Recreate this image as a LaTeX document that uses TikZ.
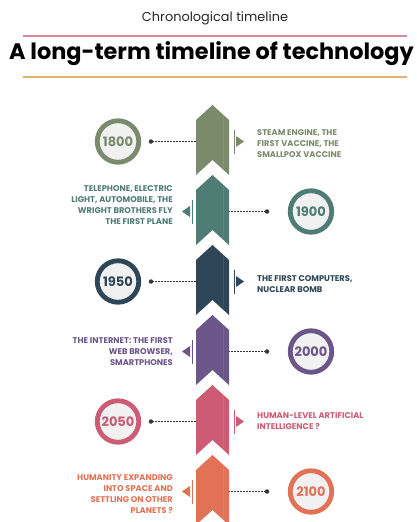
\documentclass[tikz,border=0pt]{standalone}
\usepackage{fontspec}
\setmainfont{Poppins}
\definecolor{cA}{HTML}{7C8A6C}
\definecolor{cB}{HTML}{4F7D75}
\definecolor{cC}{HTML}{2E4657}
\definecolor{cD}{HTML}{6A5689}
\definecolor{cE}{HTML}{CD5B73}
\definecolor{cF}{HTML}{E27256}
\definecolor{dotc}{HTML}{333840}
\definecolor{innerc}{HTML}{F1F1F1}
\definecolor{pinkline}{HTML}{D68A9C}
\definecolor{goldline}{HTML}{DDB66A}
\newcommand{\yrfont}{\fontsize{13}{14}\selectfont\bfseries}
\newcommand{\evfont}{\fontsize{8.3}{11}\selectfont\bfseries}
\tikzset{
  yearring/.style={circle, draw=#1, line width=4.8pt, fill=innerc, minimum size=41.5pt, inner sep=0pt, text=#1, font=\yrfont},
  dotnode/.style={circle, fill=dotc, inner sep=0pt, minimum size=4.5pt},
  link/.style={draw=dotc, line width=0.8pt, dash pattern=on 0.7pt off 0.8pt},
  evtext/.style={inner sep=0pt, font=\evfont, text=#1},
}
\newcommand{\chevron}[3]{% apex y, color, name
  \fill[#2] (196,#1+15) -- (212.5,#1) -- (229,#1+15) -- (229,#1+70) -- (212.5,#1+55) -- (196,#1+70) -- cycle;
  \draw[white, opacity=0.08, line width=0.8pt] (223,#1+6) -- (223,#1+64);
  \coordinate (#3w) at (196,#1+36.5);
  \coordinate (#3e) at (229,#1+36.5);
}
\newcommand{\rmarker}[2]{% y, color
  \draw[#2, line width=0.8pt] (234,#1-12) -- (234,#1+12);
  \fill[#2] (236,#1-5.5) -- (244,#1) -- (236,#1+5.5) -- cycle;
}
\newcommand{\lmarker}[2]{% y, color
  \draw[#2, line width=0.8pt] (192,#1-12) -- (192,#1+12);
  \fill[#2] (190,#1-5.5) -- (182,#1) -- (190,#1+5.5) -- cycle;
}
\begin{document}
\begin{tikzpicture}[x=1pt,y=-1pt]
\useasboundingbox[fill=white] (0,0) rectangle (417,522);
\begin{scope}
\clip (0,0) rectangle (417,522);
% header
\node[font=\fontsize{12.9}{15}\selectfont, text=black!85] (sub) at (215,18) {Chronological timeline};
\draw[pinkline, line width=1.6pt] (23,36) -- (407,36);
\node[anchor=base, font=\fontsize{22.4}{26}\selectfont\bfseries, text=black] (title) at (211.5,59) {A long-term timeline of technology};
\draw[goldline, line width=1.6pt] (23,77) -- (407,77);
% chevrons
\chevron{105}{cA}{k1}
\chevron{175}{cB}{k2}
\chevron{245}{cC}{k3}
\chevron{315}{cD}{k4}
\chevron{385}{cE}{k5}
\chevron{455}{cF}{k6}
% event 1
\node[yearring=cA] (y1) at (118,141.5) {1800};
\node[dotnode] (d1) at (151,141.5) {};
\draw[link] (d1) -- (k1w);
\rmarker{141.5}{cA}
\node[evtext=cA, anchor=west, align=left] (t1) at (257,144) {STEAM ENGINE, THE\\FIRST VACCINE, THE\\SMALLPOX VACCINE};
% event 2
\node[yearring=cB] (y2) at (311,211.5) {1900};
\node[dotnode] (d2) at (267,211.5) {};
\draw[link] (k2e) -- (d2);
\lmarker{211.5}{cB}
\node[evtext=cB, anchor=east, align=right] (t2) at (173,205.5) {TELEPHONE, ELECTRIC\\LIGHT, AUTOMOBILE, THE\\WRIGHT BROTHERS FLY\\THE FIRST PLANE};
% event 3
\node[yearring=cC] (y3) at (118,281.5) {1950};
\node[dotnode] (d3) at (151,281.5) {};
\draw[link] (d3) -- (k3w);
\rmarker{281.5}{cC}
\node[evtext=cC, anchor=west, align=left] (t3) at (257,284) {THE FIRST COMPUTERS,\\NUCLEAR BOMB};
% event 4
\node[yearring=cD] (y4) at (311,351.5) {2000};
\node[dotnode] (d4) at (267,351.5) {};
\draw[link] (k4e) -- (d4);
\lmarker{351.5}{cD}
\node[evtext=cD, anchor=east, align=right] (t4) at (173,352) {THE INTERNET: THE FIRST\\WEB BROWSER,\\SMARTPHONES};
% event 5
\node[yearring=cE] (y5) at (118,421.5) {2050};
\node[dotnode] (d5) at (151,421.5) {};
\draw[link] (d5) -- (k5w);
\rmarker{421.5}{cE}
\node[evtext=cE, anchor=west, align=left] (t5) at (257,421.5) {HUMAN-LEVEL ARTIFICIAL\\INTELLIGENCE ?};
% event 6
\node[yearring=cF] (y6) at (311,491.5) {2100};
\node[dotnode] (d6) at (267,491.5) {};
\draw[link] (k6e) -- (d6);
\lmarker{491.5}{cF}
\node[evtext=cF, anchor=east, align=right] (t6) at (173,494.5) {HUMANITY EXPANDING\\INTO SPACE AND\\SETTLING ON OTHER\\PLANETS ?};
\end{scope}
\end{tikzpicture}
\end{document}
